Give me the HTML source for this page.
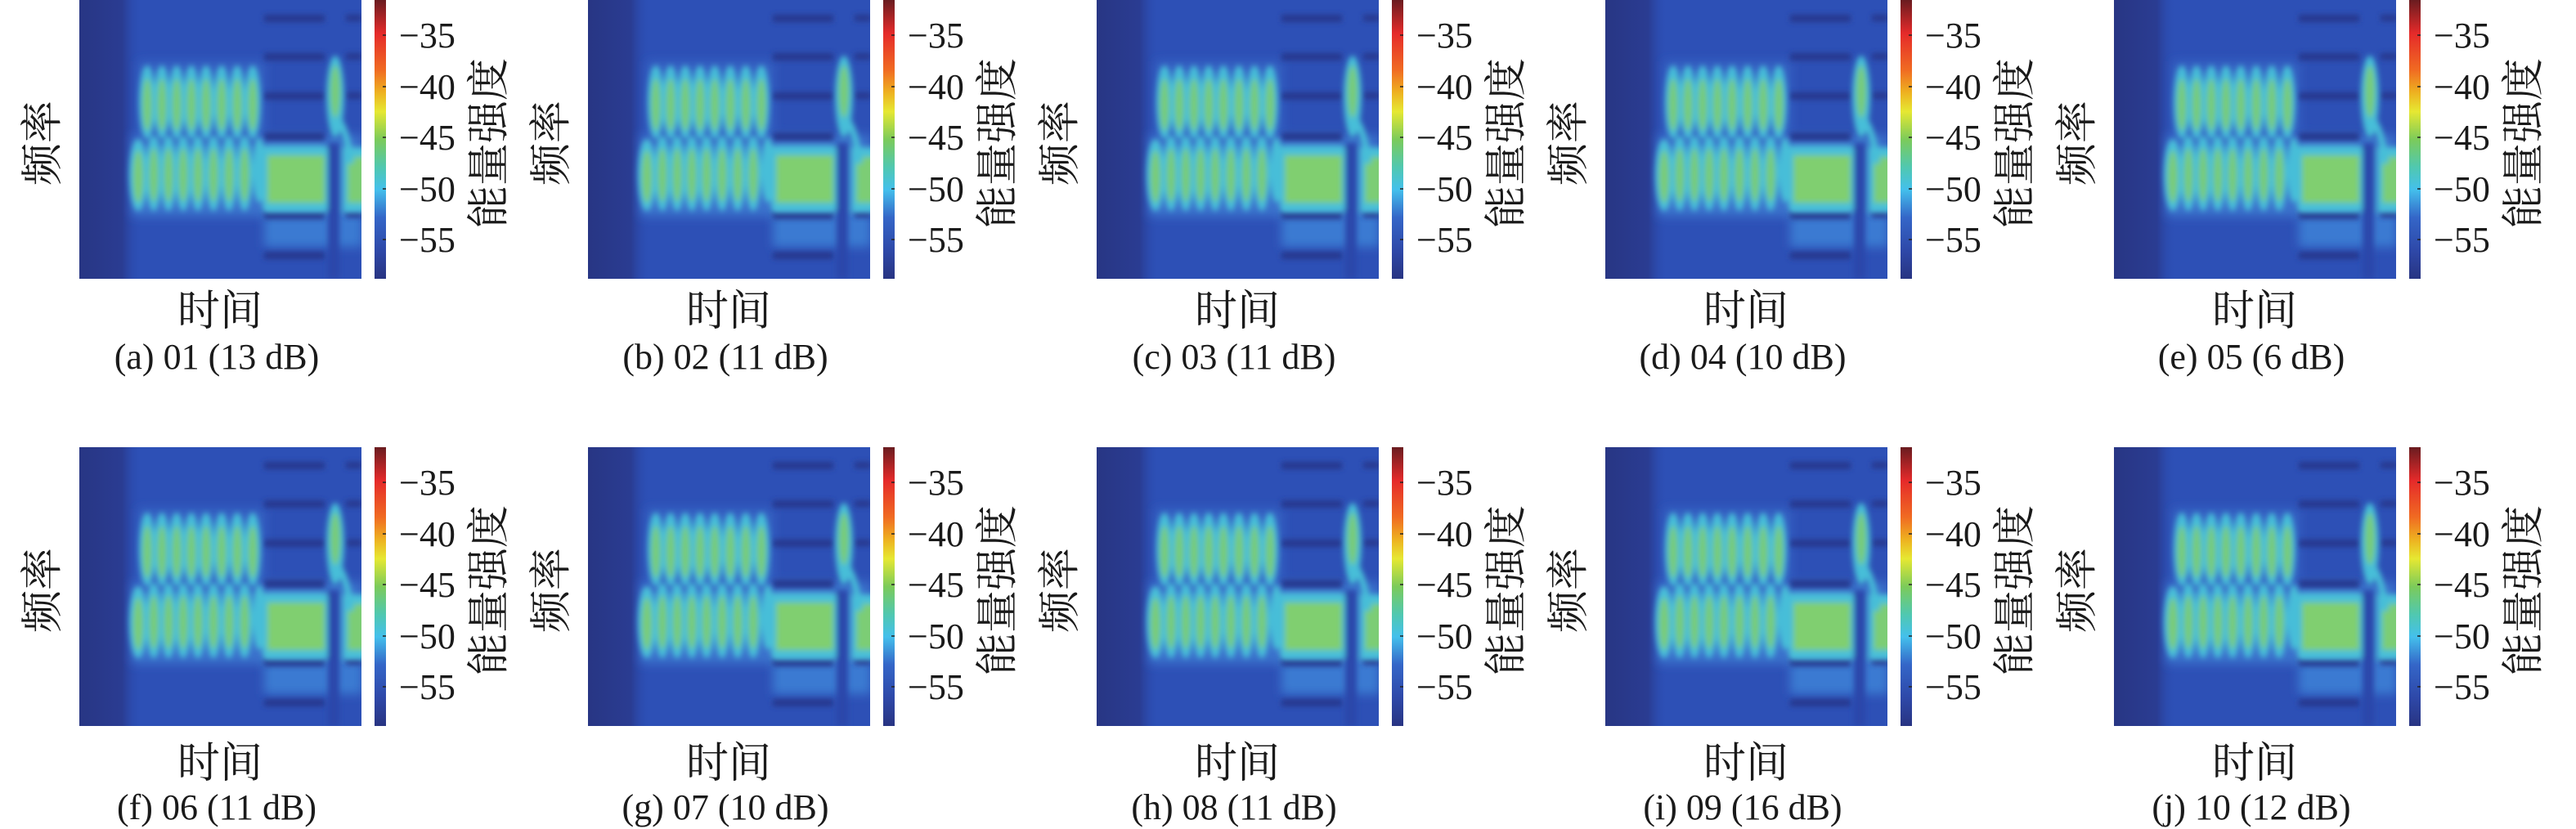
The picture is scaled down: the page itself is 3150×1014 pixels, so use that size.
<!DOCTYPE html>
<html><head><meta charset="utf-8"><style>
html,body{margin:0;padding:0;background:#fff;width:3150px;height:1014px;overflow:hidden}
svg{display:block}
.t{font-family:"Liberation Serif",serif;font-size:44px;fill:#1a1a1a}
.c{font-family:"Liberation Serif",serif;font-size:44px;fill:#1a1a1a}
.z{font-family:"Liberation Serif","Noto Serif CJK SC","Noto Sans CJK SC",serif;font-size:52px;fill:#1a1a1a}
</style></head><body>
<svg width="3150" height="1014" viewBox="0 0 3150 1014" xmlns="http://www.w3.org/2000/svg">
<defs>
<linearGradient id="cb" x1="0" y1="0" x2="0" y2="1">
<stop offset="0" stop-color="#6a1c20"/><stop offset="0.12" stop-color="#e52a2a"/>
<stop offset="0.25" stop-color="#f06a22"/><stop offset="0.33" stop-color="#eeb020"/>
<stop offset="0.4" stop-color="#e6e832"/><stop offset="0.5" stop-color="#7ccb5a"/>
<stop offset="0.6" stop-color="#50c8b0"/><stop offset="0.68" stop-color="#44c0ec"/>
<stop offset="0.78" stop-color="#3466c8"/><stop offset="0.9" stop-color="#2e48a8"/>
<stop offset="1" stop-color="#283482"/></linearGradient>
<linearGradient id="lf" x1="0" y1="0" x2="1" y2="0">
<stop offset="0" stop-color="#283684"/><stop offset="0.7" stop-color="#2a3c92"/><stop offset="1" stop-color="#2b4db3" stop-opacity="0"/></linearGradient>
<filter id="bl" x="-10%" y="-10%" width="120%" height="120%"><feGaussianBlur stdDeviation="3.5"/></filter>
<filter id="bl2" x="-20%" y="-20%" width="140%" height="140%"><feGaussianBlur stdDeviation="6"/></filter>
<clipPath id="cp"><rect width="345" height="341"/></clipPath>
<g id="spec" clip-path="url(#cp)">
<rect width="345" height="341" fill="#2d50b6"/>
<rect x="0" y="0" width="75" height="341" fill="url(#lf)"/>
<g filter="url(#bl2)">
<rect x="64" y="165" width="282" height="100" fill="#3a72cc"/>
<rect x="72" y="75" width="155" height="100" fill="#3463c4"/>
<rect x="226" y="262" width="120" height="40" fill="#3a7ad2"/>
</g>
<g filter="url(#bl)" fill="#27398e">
<rect x="226" y="18" width="74" height="9"/><rect x="226" y="65" width="74" height="9"/>
<rect x="226" y="113" width="74" height="9"/><rect x="226" y="162" width="74" height="10"/>
<rect x="226" y="258" width="74" height="10"/><rect x="226" y="308" width="74" height="9"/>
<rect x="326" y="18" width="20" height="8"/><rect x="326" y="65" width="20" height="8"/>
<rect x="326" y="113" width="20" height="8"/><rect x="326" y="258" width="20" height="8"/>
</g>
<g filter="url(#bl)">
<rect x="224" y="178" width="80" height="82" rx="6" fill="#48bfd8"/>
<rect x="230" y="190" width="70" height="58" fill="#80cf70"/>
<rect x="322" y="180" width="30" height="80" fill="#48bfd8"/>
<rect x="328" y="192" width="24" height="56" fill="#7ccd74"/>
<ellipse cx="72" cy="214" rx="11" ry="44" fill="#48c0d8"/><ellipse cx="72" cy="216" rx="6" ry="32" fill="#7acc74"/>
<g fill="#46bed8">
<ellipse cx="83" cy="125" rx="10" ry="45"/><ellipse cx="101" cy="125" rx="10" ry="45"/><ellipse cx="119" cy="125" rx="10" ry="45"/><ellipse cx="137" cy="125" rx="10" ry="45"/>
<ellipse cx="155" cy="125" rx="10" ry="45"/><ellipse cx="174" cy="125" rx="10" ry="45"/><ellipse cx="193" cy="125" rx="10" ry="45"/><ellipse cx="212" cy="125" rx="10" ry="45"/>
<ellipse cx="91" cy="212" rx="10" ry="46"/><ellipse cx="109" cy="212" rx="10" ry="46"/><ellipse cx="127" cy="212" rx="10" ry="46"/><ellipse cx="145" cy="212" rx="10" ry="46"/>
<ellipse cx="164" cy="212" rx="10" ry="46"/><ellipse cx="183" cy="212" rx="10" ry="46"/><ellipse cx="202" cy="212" rx="10" ry="46"/><ellipse cx="220" cy="208" rx="8" ry="40"/>
<ellipse cx="313" cy="118" rx="11" ry="50"/>
</g>
<g fill="#78cc76">
<ellipse cx="83" cy="128" rx="5.5" ry="32"/><ellipse cx="101" cy="128" rx="5.5" ry="32"/><ellipse cx="119" cy="128" rx="5.5" ry="32"/><ellipse cx="137" cy="128" rx="5.5" ry="32"/>
<ellipse cx="155" cy="128" rx="5.5" ry="32"/><ellipse cx="174" cy="128" rx="5.5" ry="32"/><ellipse cx="193" cy="128" rx="5.5" ry="32"/><ellipse cx="212" cy="128" rx="5.5" ry="32"/>
<ellipse cx="91" cy="214" rx="5.5" ry="33"/><ellipse cx="109" cy="214" rx="5.5" ry="33"/><ellipse cx="127" cy="214" rx="5.5" ry="33"/><ellipse cx="145" cy="214" rx="5.5" ry="33"/>
<ellipse cx="164" cy="214" rx="5.5" ry="33"/><ellipse cx="183" cy="214" rx="5.5" ry="33"/><ellipse cx="202" cy="214" rx="5.5" ry="33"/>
<ellipse cx="313" cy="112" rx="6" ry="32"/>
</g>
<path d="M312 150 Q324 160 328 200 L336 200 Q330 150 316 140 Z" fill="#46bed8"/>
<rect x="304" y="175" width="14" height="166" fill="#2b46aa"/>
</g>
</g>
<g id="cbar"><rect width="14" height="341" fill="url(#cb)"/>
<g stroke="#222" stroke-width="1.5"><line x1="10" y1="43" x2="14" y2="43"/><line x1="10" y1="106" x2="14" y2="106"/><line x1="10" y1="168" x2="14" y2="168"/><line x1="10" y1="231" x2="14" y2="231"/><line x1="10" y1="293" x2="14" y2="293"/></g></g>
</defs>

<g transform="translate(97,0)">
<use href="#spec"/><use href="#cbar" x="361"/>
<text class="t" x="391" y="58">−35</text><text class="t" x="391" y="121">−40</text><text class="t" x="391" y="183">−45</text><text class="t" x="391" y="246">−50</text><text class="t" x="391" y="308">−55</text>
<text class="z" transform="translate(502,175) rotate(-90)" text-anchor="middle" dominant-baseline="central">能量强度</text>
<text class="z" transform="translate(-44,175) rotate(-90)" text-anchor="middle" dominant-baseline="central">频率</text>
<text class="z" x="172" y="398" text-anchor="middle">时间</text>
<text class="c" x="168" y="451" text-anchor="middle">(a) 01 (13 dB)</text>
</g>
<g transform="translate(719,0)">
<use href="#spec"/><use href="#cbar" x="361"/>
<text class="t" x="391" y="58">−35</text><text class="t" x="391" y="121">−40</text><text class="t" x="391" y="183">−45</text><text class="t" x="391" y="246">−50</text><text class="t" x="391" y="308">−55</text>
<text class="z" transform="translate(502,175) rotate(-90)" text-anchor="middle" dominant-baseline="central">能量强度</text>
<text class="z" transform="translate(-44,175) rotate(-90)" text-anchor="middle" dominant-baseline="central">频率</text>
<text class="z" x="172" y="398" text-anchor="middle">时间</text>
<text class="c" x="168" y="451" text-anchor="middle">(b) 02 (11 dB)</text>
</g>
<g transform="translate(1341,0)">
<use href="#spec"/><use href="#cbar" x="361"/>
<text class="t" x="391" y="58">−35</text><text class="t" x="391" y="121">−40</text><text class="t" x="391" y="183">−45</text><text class="t" x="391" y="246">−50</text><text class="t" x="391" y="308">−55</text>
<text class="z" transform="translate(502,175) rotate(-90)" text-anchor="middle" dominant-baseline="central">能量强度</text>
<text class="z" transform="translate(-44,175) rotate(-90)" text-anchor="middle" dominant-baseline="central">频率</text>
<text class="z" x="172" y="398" text-anchor="middle">时间</text>
<text class="c" x="168" y="451" text-anchor="middle">(c) 03 (11 dB)</text>
</g>
<g transform="translate(1963,0)">
<use href="#spec"/><use href="#cbar" x="361"/>
<text class="t" x="391" y="58">−35</text><text class="t" x="391" y="121">−40</text><text class="t" x="391" y="183">−45</text><text class="t" x="391" y="246">−50</text><text class="t" x="391" y="308">−55</text>
<text class="z" transform="translate(502,175) rotate(-90)" text-anchor="middle" dominant-baseline="central">能量强度</text>
<text class="z" transform="translate(-44,175) rotate(-90)" text-anchor="middle" dominant-baseline="central">频率</text>
<text class="z" x="172" y="398" text-anchor="middle">时间</text>
<text class="c" x="168" y="451" text-anchor="middle">(d) 04 (10 dB)</text>
</g>
<g transform="translate(2585,0)">
<use href="#spec"/><use href="#cbar" x="361"/>
<text class="t" x="391" y="58">−35</text><text class="t" x="391" y="121">−40</text><text class="t" x="391" y="183">−45</text><text class="t" x="391" y="246">−50</text><text class="t" x="391" y="308">−55</text>
<text class="z" transform="translate(502,175) rotate(-90)" text-anchor="middle" dominant-baseline="central">能量强度</text>
<text class="z" transform="translate(-44,175) rotate(-90)" text-anchor="middle" dominant-baseline="central">频率</text>
<text class="z" x="172" y="398" text-anchor="middle">时间</text>
<text class="c" x="168" y="451" text-anchor="middle">(e) 05 (6 dB)</text>
</g>

<g transform="translate(97,547)">
<use href="#spec"/><use href="#cbar" x="361"/>
<text class="t" x="391" y="58">−35</text><text class="t" x="391" y="121">−40</text><text class="t" x="391" y="183">−45</text><text class="t" x="391" y="246">−50</text><text class="t" x="391" y="308">−55</text>
<text class="z" transform="translate(502,175) rotate(-90)" text-anchor="middle" dominant-baseline="central">能量强度</text>
<text class="z" transform="translate(-44,175) rotate(-90)" text-anchor="middle" dominant-baseline="central">频率</text>
<text class="z" x="172" y="404" text-anchor="middle">时间</text>
<text class="c" x="168" y="455" text-anchor="middle">(f) 06 (11 dB)</text>
</g>
<g transform="translate(719,547)">
<use href="#spec"/><use href="#cbar" x="361"/>
<text class="t" x="391" y="58">−35</text><text class="t" x="391" y="121">−40</text><text class="t" x="391" y="183">−45</text><text class="t" x="391" y="246">−50</text><text class="t" x="391" y="308">−55</text>
<text class="z" transform="translate(502,175) rotate(-90)" text-anchor="middle" dominant-baseline="central">能量强度</text>
<text class="z" transform="translate(-44,175) rotate(-90)" text-anchor="middle" dominant-baseline="central">频率</text>
<text class="z" x="172" y="404" text-anchor="middle">时间</text>
<text class="c" x="168" y="455" text-anchor="middle">(g) 07 (10 dB)</text>
</g>
<g transform="translate(1341,547)">
<use href="#spec"/><use href="#cbar" x="361"/>
<text class="t" x="391" y="58">−35</text><text class="t" x="391" y="121">−40</text><text class="t" x="391" y="183">−45</text><text class="t" x="391" y="246">−50</text><text class="t" x="391" y="308">−55</text>
<text class="z" transform="translate(502,175) rotate(-90)" text-anchor="middle" dominant-baseline="central">能量强度</text>
<text class="z" transform="translate(-44,175) rotate(-90)" text-anchor="middle" dominant-baseline="central">频率</text>
<text class="z" x="172" y="404" text-anchor="middle">时间</text>
<text class="c" x="168" y="455" text-anchor="middle">(h) 08 (11 dB)</text>
</g>
<g transform="translate(1963,547)">
<use href="#spec"/><use href="#cbar" x="361"/>
<text class="t" x="391" y="58">−35</text><text class="t" x="391" y="121">−40</text><text class="t" x="391" y="183">−45</text><text class="t" x="391" y="246">−50</text><text class="t" x="391" y="308">−55</text>
<text class="z" transform="translate(502,175) rotate(-90)" text-anchor="middle" dominant-baseline="central">能量强度</text>
<text class="z" transform="translate(-44,175) rotate(-90)" text-anchor="middle" dominant-baseline="central">频率</text>
<text class="z" x="172" y="404" text-anchor="middle">时间</text>
<text class="c" x="168" y="455" text-anchor="middle">(i) 09 (16 dB)</text>
</g>
<g transform="translate(2585,547)">
<use href="#spec"/><use href="#cbar" x="361"/>
<text class="t" x="391" y="58">−35</text><text class="t" x="391" y="121">−40</text><text class="t" x="391" y="183">−45</text><text class="t" x="391" y="246">−50</text><text class="t" x="391" y="308">−55</text>
<text class="z" transform="translate(502,175) rotate(-90)" text-anchor="middle" dominant-baseline="central">能量强度</text>
<text class="z" transform="translate(-44,175) rotate(-90)" text-anchor="middle" dominant-baseline="central">频率</text>
<text class="z" x="172" y="404" text-anchor="middle">时间</text>
<text class="c" x="168" y="455" text-anchor="middle">(j) 10 (12 dB)</text>
</g>
</svg>
</body></html>
